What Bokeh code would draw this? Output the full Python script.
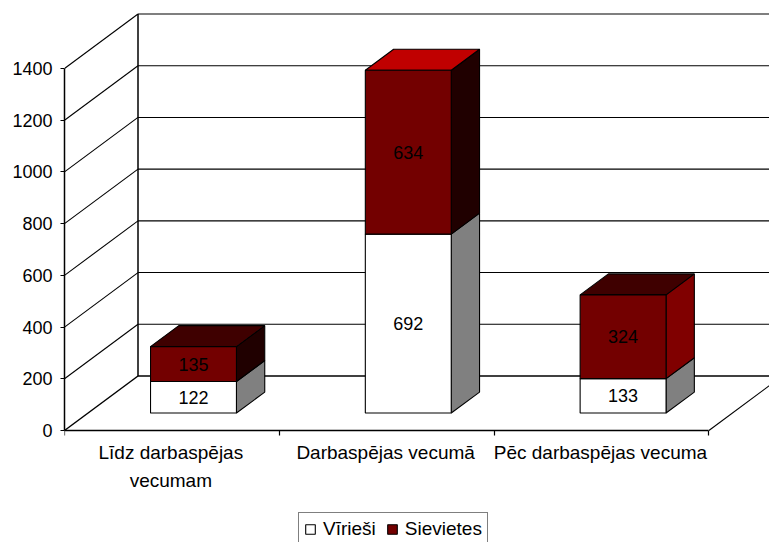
from bokeh.plotting import figure
from bokeh.models import Range1d, FixedTicker, Legend, LegendItem, ColumnDataSource
from bokeh.core.properties import value
from bokeh.embed import file_html
from bokeh.resources import INLINE

categories = ["Līdz darbaspējas\nvecumam", "Darbaspējas vecumā", "Pēc darbaspējas vecuma"]
label_positions = [0.495, 1.495, 2.495]
series_names = ["Vīrieši", "Sievietes"]
virieši = [122, 692, 133]
sievietes = [135, 634, 324]
y_ticks = [0, 200, 400, 600, 800, 1000, 1200, 1400]

FONT = "Liberation Sans"
FS = "18px"
FS_CAT = "19px"
W, H = 769, 542
LEFT, BOTTOM_Y = 64, 430          # y axis x / zero line y, in figure px
PX_PER_CAT = 214.8
PX_PER_UNIT = 362 / 1400
DX = 73.5 / PX_PER_CAT            # wall depth in x units
DY = 54.5 / PX_PER_UNIT           # wall depth in value units
D0, D1 = 0.32, 0.705              # bar depth span
BAR_L, BAR_W = 0.291, 0.4

def pr(x, v, d=0.0):
    return (x + d * DX, v + d * DY)

xr_max = (W - LEFT) / PX_PER_CAT
p = figure(width=W, height=H, output_backend="svg", toolbar_location=None,
           x_range=Range1d(0, xr_max),
           y_range=Range1d(-(H - BOTTOM_Y) / PX_PER_UNIT, BOTTOM_Y / PX_PER_UNIT),
           min_border_left=LEFT, min_border_right=0, min_border_top=0,
           min_border_bottom=0, outline_line_color=None,
           background_fill_color="white", border_fill_color="white")
p.grid.visible = False

# axes
xa, ya = p.xaxis[0], p.yaxis[0]
ya.ticker = FixedTicker(ticks=y_ticks)
ya.bounds = (0, 1400)
ya.axis_line_width = 1.5
ya.major_tick_line_width = 1.2
ya.major_tick_in = 0
ya.major_tick_out = 4
ya.minor_tick_line_color = None
ya.major_label_text_font = FONT
ya.major_label_text_font_size = FS
ya.major_label_text_color = "black"
ya.major_label_standoff = 8
xa.fixed_location = 0
xa.ticker = FixedTicker(ticks=label_positions, minor_ticks=[0, 1, 2, 3])
xa.bounds = (0, 3)
xa.axis_line_width = 1.5
xa.major_tick_line_color = None
xa.major_tick_in = 0
xa.major_tick_out = 0
xa.minor_tick_in = 0
xa.minor_tick_out = 5
xa.minor_tick_line_width = 1.2
xa.minor_tick_line_color = "black"
xa.major_label_overrides = dict(zip(label_positions, categories))
xa.major_label_text_font = FONT
xa.major_label_text_font_size = FS_CAT
xa.major_label_text_color = "black"
xa.major_label_text_line_height = 1.35
xa.major_label_standoff = 6

# walls
far = pr(0, 0, 1)
for t in y_ticks:
    a, b = pr(0, t, 0), pr(0, t, 1)
    lw = 1.5 if t == 0 else 1.1
    p.line([a[0], b[0]], [a[1], b[1]], line_color="black", line_width=lw)
    p.line([b[0], xr_max], [b[1], b[1]], line_color="black", line_width=1.6 if t == 0 else 1.1)
top = pr(0, 1400, 1)
p.line([far[0], top[0]], [far[1], top[1]], line_color="black", line_width=1.5)
a, b = pr(3, 0, 0), pr(3, 0, 1)
p.line([a[0], b[0]], [a[1], b[1]], line_color="black", line_width=1.1)

# bars
front_cols = ["white", "#730000"]
side_cols = [["#808080", "#200000"], ["#808080", "#200000"], ["#808080", "#800000"]]
top_cols = ["#3f0000", "#c00000", "#3f0000"]
labels = dict(x=[], y=[], t=[])
for i in range(3):
    base = 0
    x0 = i + BAR_L
    x1 = x0 + BAR_W
    for s, vals in enumerate([virieši, sievietes]):
        v = vals[i]
        b, t = base, base + v
        xs, ys = zip(pr(x1, b, D0), pr(x1, b, D1), pr(x1, t, D1), pr(x1, t, D0))
        p.patch(list(xs), list(ys), fill_color=side_cols[i][s], line_color="black", line_width=1.1)
        if s == 1:
            xs, ys = zip(pr(x0, t, D0), pr(x1, t, D0), pr(x1, t, D1), pr(x0, t, D1))
            p.patch(list(xs), list(ys), fill_color=top_cols[i], line_color="black", line_width=1.1)
        xs, ys = zip(pr(x0, b, D0), pr(x1, b, D0), pr(x1, t, D0), pr(x0, t, D0))
        p.patch(list(xs), list(ys), fill_color=front_cols[s], line_color="black", line_width=1.1)
        c = pr(x0 + BAR_W / 2, b + v / 2, D0)
        labels["x"].append(c[0]); labels["y"].append(c[1]); labels["t"].append(str(v))
        base = t

p.text("x", "y", text="t", source=ColumnDataSource(labels), text_align="center",
       text_baseline="middle", text_font=value(FONT), text_font_size=value(FS), text_color="black")

# legend
sw0 = p.quad(left=[-6], right=[-5], bottom=[-6], top=[-5], fill_color="white", line_color="black", line_width=1.1)
sw1 = p.quad(left=[-6], right=[-5], bottom=[-6], top=[-5], fill_color="#730000", line_color="black", line_width=1.1)
leg = Legend(items=[LegendItem(label=series_names[0], renderers=[sw0]),
                    LegendItem(label=series_names[1], renderers=[sw1])],
             orientation="horizontal", location=(234, -4),
             label_text_font=FONT, label_text_font_size=FS_CAT, label_text_color="black",
             glyph_width=12, glyph_height=12, label_standoff=7, spacing=10,
             margin=0, padding=5, border_line_color="black", border_line_width=1.2,
             background_fill_alpha=1)
p.add_layout(leg, "center")

open("out.html", "w").write(file_html(p, INLINE))
